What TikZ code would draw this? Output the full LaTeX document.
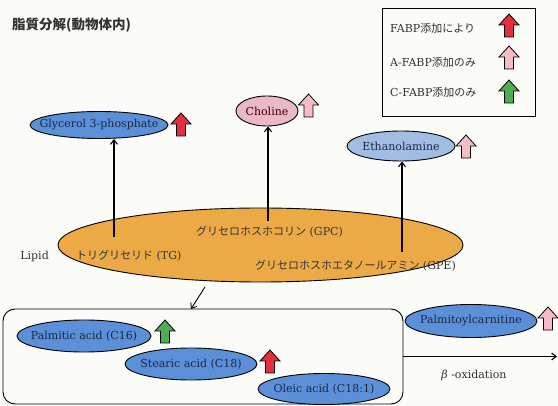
\documentclass[tikz,border=0pt]{standalone}
\usepackage{fontspec}
\setmainfont{DejaVu Serif}
\newfontfamily\jp{Noto Sans CJK JP}
\usetikzlibrary{arrows.meta,shapes.geometric}
\definecolor{bgc}{HTML}{FBFBF7}
\definecolor{blueA}{HTML}{5B8FD8}
\definecolor{blueL}{HTML}{A2BDE4}
\definecolor{pinkE}{HTML}{EAB8C6}
\definecolor{orangeL}{HTML}{EBAA46}
\definecolor{redA}{HTML}{E1303B}
\definecolor{pinkA}{HTML}{F4BCC4}
\definecolor{greenA}{HTML}{4DAE4F}
\definecolor{txtB}{HTML}{1E2846}
\definecolor{txtD}{HTML}{333333}
\tikzset{
  ell/.style={ellipse, draw=black, line width=0.9pt, inner sep=0pt},
  etext/.style={font=\fontsize{11}{13}\selectfont, text=txtB, inner sep=0pt},
  uparr/.pic={\path[pic actions, draw=black, line width=0.8pt]
    (-4.5,0) -- (-4.5,12) -- (-10,12) -- (0,23) -- (10,12) -- (4.5,12) -- (4.5,0) -- cycle;},
  conn/.style={line width=1.1pt, -{Straight Barb[length=4.5pt,width=7pt]}},
  lbl/.style={font=\fontsize{11}{13}\selectfont, text=txtD, inner sep=0pt},
  jlbl/.style={font=\fontsize{11}{13}\selectfont, text=txtD, inner sep=0pt}
}
\begin{document}
\begin{tikzpicture}[x=1pt,y=1pt]
\fill[bgc] (0,0) rectangle (558,-406);
\useasboundingbox (0,0) rectangle (558,-406);

% title
\node[anchor=west, font=\fontsize{13.5}{16}\selectfont, text=txtD, inner sep=0pt] (title) at (12,-25) {\jp\bfseries 脂質分解(動物体内)};

% legend
\node[draw=black, line width=1pt, minimum width=153, minimum height=108, inner sep=0pt] (legend) at (458.5,-63) {};
\node[jlbl, anchor=west] (lg1) at (390,-28) {FABP{\jp 添加により}};
\node[jlbl, anchor=west] (lg2) at (390,-62) {A-FABP{\jp 添加のみ}};
\node[jlbl, anchor=west] (lg3) at (390,-92) {C-FABP{\jp 添加のみ}};
\pic[fill=redA] at (509,-37) {uparr};
\pic[fill=pinkA] at (509,-69) {uparr};
\pic[fill=greenA] at (509,-103) {uparr};

% products
\node[ell, fill=blueA, minimum width=138, minimum height=27,
  label={[etext]center:Glycerol 3-phosphate}] (glyc) at (99,-125) {};
\pic[fill=redA] at (181,-136) {uparr};
\node[ell, fill=pinkE, minimum width=62, minimum height=30,
  label={[etext, text=black!75!red]center:Choline}] (chol) at (267,-111) {};
\pic[fill=pinkA] at (308.5,-117) {uparr};
\node[ell, fill=blueL, minimum width=108, minimum height=30,
  label={[etext]center:Ethanolamine}] (etha) at (401,-146) {};
\pic[fill=pinkA] at (466,-158) {uparr};

% lipid
\node[ell, fill=orangeL, minimum width=405, minimum height=74] (lipid) at (260.5,-245) {};
\node[lbl, anchor=east] (lipidlbl) at (49,-256) {Lipid};
\node[jlbl, anchor=west] (tg) at (76,-256) {{\jp トリグリセリド} (TG)};
\node[jlbl, anchor=west] (gpc) at (196,-232) {{\jp グリセロホスホコリン} (GPC)};
\node[jlbl, anchor=east] (gpe) at (456,-266) {{\jp グリセロホスホエタノールアミン} (GPE)};

\coordinate (s1) at (114,-237);
\coordinate (s2) at (268,-221);
\coordinate (s3) at (402,-252);
\draw[conn] (s1) -- (s1 |- glyc.south);
\draw[conn] (s2) -- (s2 |- chol.south);
\draw[conn] (s3) -- (s3 |- etha.south);

% fatty acid box
\node[draw=black, line width=0.9pt, rounded corners=12pt, minimum width=400, minimum height=95, inner sep=0pt] (box) at (203,-356.5) {};
\coordinate (fa1) at (205,-287);
\coordinate (fa2) at (191,-309);
\draw[line width=0.9pt, -{Straight Barb[length=4.5pt,width=7pt]}] (fa1) -- (fa2);

\node[ell, fill=blueA, minimum width=134, minimum height=32,
  label={[etext]center:Palmitic acid (C16)}] (palm) at (84,-336) {};
\pic[fill=greenA] at (165,-343) {uparr};
\node[ell, fill=blueA, minimum width=132, minimum height=32,
  label={[etext]center:Stearic acid (C18)}] (stea) at (191,-364) {};
\pic[fill=redA] at (270,-373) {uparr};
\node[ell, fill=blueA, minimum width=132, minimum height=31,
  label={[etext]center:Oleic acid (C18:1)}] (olei) at (324,-389) {};

\node[ell, fill=blueA, minimum width=132, minimum height=33,
  label={[etext]center:Palmitoylcarnitine}] (pcar) at (471,-321) {};
\pic[fill=pinkA] at (548,-330) {uparr};

\coordinate (bend) at (557,-356.5);
\draw[conn] (box.east) -- (bend);
\node[lbl] (beta) at (474,-375) {{\itshape β} -oxidation};
\end{tikzpicture}
\end{document}
